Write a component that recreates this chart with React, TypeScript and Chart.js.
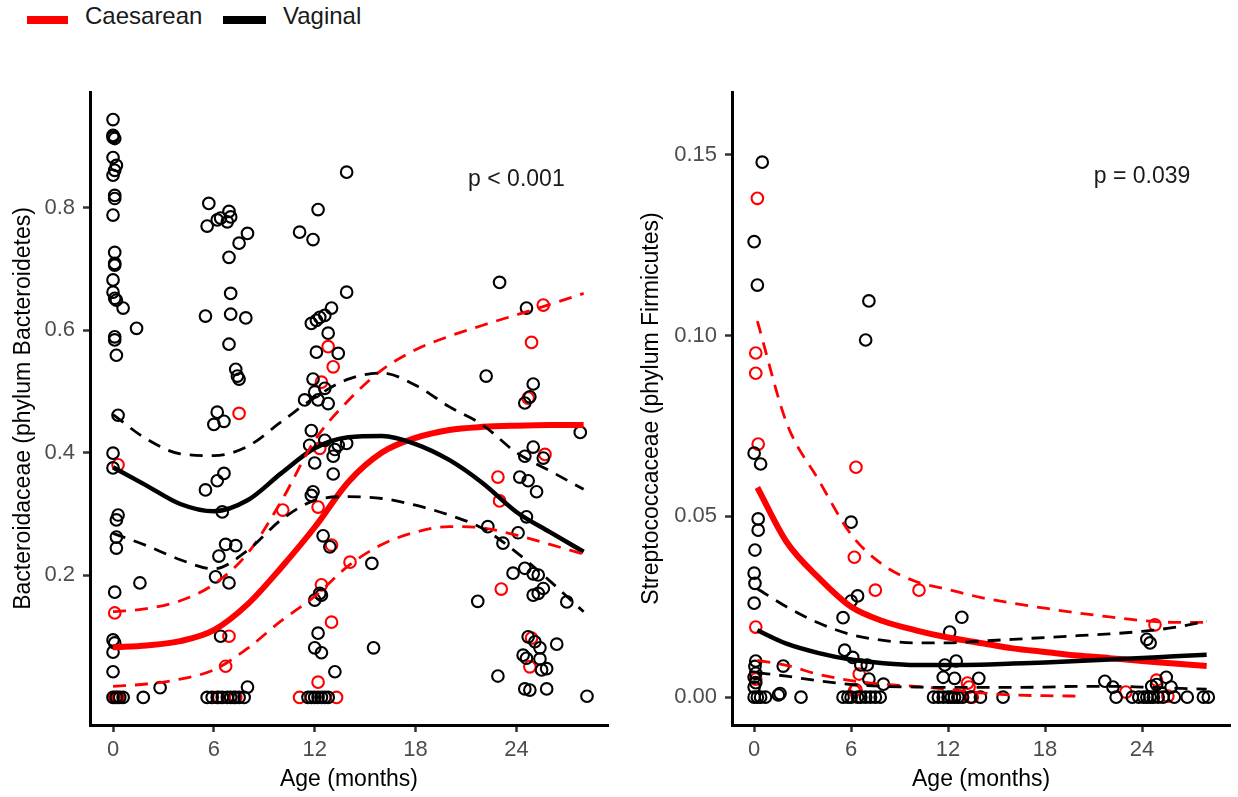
import React, { useEffect, useRef } from "react";
import { Chart, registerables } from "chart.js";

Chart.register(...registerables);

const FONT = '"Liberation Sans", Arial, Helvetica, sans-serif';
const RED = "#FF0000";
const BLACK = "#000000";

// ---------- axis ticks ----------
const AGE_TICKS = [0, 6, 12, 18, 24];
const LEFT_Y_TICKS = [0.2, 0.4, 0.6, 0.8];
const RIGHT_Y_TICKS = [0.0, 0.05, 0.1, 0.15];

// ---------- LEFT panel: Bacteroidaceae ----------
const leftVagAge = [
  0.0, 0.0, 0.1, 0.0, 0.0, 0.2, 0.1, 0.0, 0.1, 0.1, 0.0, 0.1, 0.1, 0.1, 0.0, 0.0, 0.1, 0.2, 0.6, 1.4,
  0.1, 0.1, 0.2, 0.3, 0.0, 0.0, 0.3, 0.2, 0.2, 0.2, 1.6, 0.1, 0.0, 0.1, 0.0, 0.0, 2.8, 1.8, 0.0, 0.2,
  0.4, 0.6,
  5.7, 5.6, 6.2, 6.4, 6.9, 7.0, 6.8, 8.0, 7.5, 6.9, 7.0, 5.5, 7.0, 7.9, 6.9, 7.3, 7.4, 7.5, 6.2, 6.0,
  6.6, 5.5, 6.2, 6.6, 6.5, 6.7, 7.3, 6.3, 6.1, 6.9, 6.4, 8.0, 5.6, 5.9, 6.2, 6.5, 6.8, 7.0, 7.2, 7.5,
  7.8,
  12.2, 11.1, 11.9, 13.9, 13.9, 13.0, 12.6, 12.3, 12.1, 11.8, 12.8, 12.1, 13.4, 11.9, 12.6, 12.0, 11.4,
  12.2, 12.8, 11.8, 11.7, 12.6, 13.2, 13.4, 13.9, 13.1, 12.0, 13.1, 11.9, 11.8, 12.5, 12.9, 15.4, 12.3,
  12.0, 12.4, 12.2, 12.0, 12.4, 15.5, 13.2, 11.6, 11.8, 12.0, 12.2, 12.4, 12.6, 12.8,
  23.0, 24.6, 22.2, 25.0, 24.8, 24.5, 25.0, 24.5, 25.6, 27.8, 24.2, 24.7, 25.2, 24.6, 22.3, 24.1, 23.2,
  23.8, 24.5, 25.0, 25.3, 25.6, 25.0, 25.3, 21.7, 27.0, 24.7, 25.1, 25.4, 26.4, 24.4, 24.6, 25.4, 25.8,
  25.5, 22.9, 24.5, 24.8, 25.8, 28.2,
];
const leftVagValue = [
  0.944, 0.918, 0.913, 0.915, 0.882, 0.869, 0.861, 0.853, 0.82, 0.815, 0.788, 0.727, 0.709, 0.706, 0.682,
  0.662, 0.652, 0.649, 0.636, 0.603, 0.589, 0.584, 0.559, 0.461, 0.399, 0.375, 0.298, 0.29, 0.262, 0.244,
  0.187, 0.172, 0.094, 0.089, 0.074, 0.042, 0.016, 0.0, 0.0, 0.0, 0.0, 0.0,
  0.807, 0.77, 0.78, 0.783, 0.794, 0.785, 0.777, 0.758, 0.742, 0.719, 0.66, 0.623, 0.626, 0.62, 0.577,
  0.536, 0.525, 0.52, 0.466, 0.446, 0.451, 0.339, 0.354, 0.366, 0.303, 0.25, 0.248, 0.231, 0.197, 0.187,
  0.1, 0.017, 0.0, 0.0, 0.0, 0.0, 0.0, 0.0, 0.0, 0.0, 0.0,
  0.797, 0.76, 0.748, 0.858, 0.662, 0.636, 0.624, 0.621, 0.616, 0.611, 0.595, 0.564, 0.562, 0.52, 0.505,
  0.499, 0.486, 0.486, 0.48, 0.436, 0.412, 0.42, 0.405, 0.412, 0.415, 0.394, 0.383, 0.365, 0.336, 0.33,
  0.264, 0.246, 0.219, 0.17, 0.159, 0.167, 0.105, 0.081, 0.073, 0.081, 0.042, 0.0, 0.0, 0.0, 0.0, 0.0,
  0.0, 0.0,
  0.678, 0.636, 0.525, 0.512, 0.491, 0.481, 0.409, 0.394, 0.391, 0.433, 0.36, 0.354, 0.336, 0.295, 0.279,
  0.269, 0.252, 0.203, 0.211, 0.202, 0.2, 0.178, 0.167, 0.17, 0.157, 0.156, 0.099, 0.091, 0.081, 0.087,
  0.069, 0.064, 0.063, 0.047, 0.045, 0.035, 0.014, 0.012, 0.014, 0.002,
];
const leftCesAge = [
  0.3, 0.1, 0.1, 0.3, 7.5, 6.9, 6.7, 6.3, 7.3, 10.1, 12.8, 13.1, 12.4, 12.3, 12.2, 13.0, 14.1, 12.4, 13.0,
  12.2, 11.1, 13.3, 25.6, 24.9, 24.7, 25.7, 22.9, 23.0, 23.1, 24.9, 24.8,
];
const leftCesValue = [
  0.38, 0.138, 0.0, 0.0, 0.464, 0.1, 0.051, 0.0, 0.0, 0.306, 0.573, 0.54, 0.515, 0.407, 0.311, 0.249, 0.221,
  0.184, 0.123, 0.025, 0.0, 0.0, 0.641, 0.58, 0.489, 0.397, 0.36, 0.321, 0.177, 0.097, 0.05,
];

// fitted curves (read at these ages)
const leftFitAge = [0, 2, 4, 6, 8, 10, 12, 14, 16, 18, 20, 22, 24, 26, 28];
const leftVagFit = [0.376, 0.346, 0.316, 0.304, 0.322, 0.366, 0.407, 0.425, 0.427, 0.414, 0.388, 0.35, 0.303, 0.27, 0.238];
const leftVagLower = [0.268, 0.248, 0.225, 0.21, 0.24, 0.29, 0.322, 0.328, 0.325, 0.314, 0.298, 0.276, 0.237, 0.19, 0.14];
const leftVagUpper = [0.462, 0.422, 0.398, 0.395, 0.41, 0.45, 0.49, 0.52, 0.53, 0.51, 0.475, 0.445, 0.4, 0.37, 0.34];
const leftCesFit = [0.082, 0.085, 0.092, 0.11, 0.152, 0.212, 0.278, 0.352, 0.4, 0.424, 0.437, 0.442, 0.444, 0.445, 0.445];
const leftCesLower = [0.018, 0.022, 0.03, 0.045, 0.08, 0.125, 0.165, 0.215, 0.25, 0.27, 0.279, 0.277, 0.265, 0.25, 0.234];
const leftCesUpper = [0.14, 0.145, 0.158, 0.185, 0.235, 0.32, 0.42, 0.485, 0.535, 0.568, 0.59, 0.608, 0.625, 0.642, 0.66];

// ---------- RIGHT panel: Streptococcaceae ----------
const rightVagAge = [
  0.5, 0.0, 0.2, 7.1, 6.9, 0.0, 0.4, 0.25, 0.25, 6.0, 0.05, 0.0, 0.05, 0.0, 6.4, 6.0, 5.5, 5.6, 6.1, 0.1,
  1.8, 6.6, 7.0, 0.05, 0.1, 0.0, 0.1, 0.0, 7.1, 8.0, 1.6, 1.5, 2.9, 0.7, 0.0, 0.2, 0.4, 5.5, 5.8, 6.0,
  6.4, 6.6, 6.9, 7.2, 7.5, 7.8,
  12.85, 12.1, 11.8, 12.5, 11.7, 12.4, 13.9, 11.1, 11.4, 11.7, 12.0, 12.2, 12.4, 12.6, 12.9, 13.4, 14.0,
  15.4,
  24.3, 24.5, 21.7, 22.2, 25.5, 25.8, 24.6, 24.9, 22.4, 23.4, 23.8, 24.1, 24.3, 24.5, 24.7, 25.0, 25.3,
  26.0, 26.8, 27.8, 28.1,
];
const rightVagValue = [
  0.148, 0.126, 0.114, 0.1096, 0.0988, 0.0675, 0.0645, 0.0493, 0.0462, 0.0484, 0.0407, 0.0343, 0.0315,
  0.026, 0.028, 0.0266, 0.022, 0.013, 0.011, 0.01, 0.0086, 0.0089, 0.0089, 0.0085, 0.0066, 0.0055, 0.004,
  0.0028, 0.005, 0.0036, 0.001, 0.0006, 0.0, 0.0, 0.0, 0.0, 0.0, 0.0, 0.0, 0.0, 0.0, 0.0, 0.0, 0.0, 0.0,
  0.0,
  0.0221, 0.018, 0.0089, 0.01, 0.0055, 0.0052, 0.0052, 0.0, 0.0, 0.0, 0.0, 0.0, 0.0, 0.0, 0.0, 0.0, 0.0,
  0.0,
  0.016, 0.015, 0.0044, 0.0028, 0.0055, 0.0028, 0.003, 0.0035, 0.0, 0.0, 0.0, 0.0, 0.0, 0.0, 0.0, 0.0, 0.0,
  0.0, 0.0, 0.0, 0.0,
];
const rightCesAge = [
  0.2, 0.1, 0.1, 0.25, 6.3, 6.2, 7.5, 10.2, 0.1, 6.5, 0.1, 6.2, 6.3, 13.2, 13.3, 12.7, 13.5, 24.8, 23.0,
  24.9, 25.6,
];
const rightCesValue = [
  0.138, 0.0952, 0.0896, 0.07, 0.0636, 0.0387, 0.0296, 0.0296, 0.0194, 0.0064, 0.005, 0.0017, 0.002, 0.0039,
  0.0028, 0.0, 0.0, 0.02, 0.0014, 0.0047, 0.0003,
];

const rightFitAge = [0.2, 2, 4, 6, 8, 10, 12, 14, 16, 18, 20, 22, 24, 26, 28];
const rightVagFit = [0.0185, 0.0148, 0.0122, 0.0104, 0.0094, 0.0089, 0.0089, 0.009, 0.0093, 0.0096, 0.01, 0.0104, 0.0108, 0.0113, 0.0117];
const rightVagLower = [0.0068, 0.0058, 0.0045, 0.0035, 0.003, 0.0028, 0.0027, 0.0027, 0.0027, 0.0028, 0.003, 0.003, 0.0028, 0.0025, 0.0022];
const rightVagUpper = [0.03, 0.025, 0.0205, 0.0173, 0.0157, 0.015, 0.015, 0.0155, 0.016, 0.0165, 0.017, 0.0175, 0.0182, 0.0193, 0.021];
const rightCesFit = [0.058, 0.043, 0.033, 0.025, 0.021, 0.0185, 0.0165, 0.015, 0.0135, 0.0125, 0.0115, 0.0108, 0.01, 0.0093, 0.0086];
const rightCesLower = [0.0102, 0.0088, 0.0063, 0.0046, 0.0036, 0.003, 0.0022, 0.0012, 0.0006, 0.0004, 0.0003, null, null, null, null];
const rightCesUpper = [0.104, 0.076, 0.06, 0.045, 0.0365, 0.032, 0.0298, 0.0276, 0.026, 0.0246, 0.0233, 0.0222, 0.0212, 0.0207, 0.0207];

// ---------- helpers ----------
const pts = (xs: number[], ys: (number | null)[]) =>
  xs.map((x, i) => ({ x, y: ys[i] as number })).filter((p) => p.y !== null && p.y !== undefined);

function lineDs(xs: number[], ys: (number | null)[], color: string, width: number, dashed: boolean) {
  return {
    type: "scatter" as const,
    data: pts(xs, ys),
    showLine: true,
    borderColor: color,
    backgroundColor: color,
    borderWidth: width,
    borderDash: dashed ? [13, 9] : [],
    borderCapStyle: "butt" as const,
    pointRadius: 0,
    cubicInterpolationMode: "monotone" as const,
    fill: false,
    order: 0,
  };
}

function pointDs(xs: number[], ys: number[], color: string) {
  return {
    type: "scatter" as const,
    data: pts(xs, ys),
    showLine: false,
    pointStyle: "circle" as const,
    pointRadius: 5.8,
    pointBorderWidth: 2.1,
    pointBorderColor: color,
    pointBackgroundColor: "rgba(0,0,0,0)",
    borderColor: color,
    backgroundColor: "rgba(0,0,0,0)",
    order: 1,
  };
}

type PanelCfg = {
  vagAge: number[]; vagVal: number[]; cesAge: number[]; cesVal: number[];
  fitAge: number[];
  vagFit: (number | null)[]; vagLo: (number | null)[]; vagHi: (number | null)[];
  cesFit: (number | null)[]; cesLo: (number | null)[]; cesHi: (number | null)[];
  yMin: number; yMax: number; yTicks: number[]; yDigits: number;
  yTitle: string; yTitlePad: number; yWidth: number; padRight: number;
  pText: string; pX: number; pY: number;
};

function buildChart(canvas: HTMLCanvasElement, c: PanelCfg) {
  const pPlugin = {
    id: "pText",
    afterDatasetsDraw(chart: any) {
      const { ctx, scales } = chart;
      ctx.save();
      ctx.font = `23px ${FONT}`;
      ctx.fillStyle = "#1a1a1a";
      ctx.textAlign = "center";
      ctx.textBaseline = "middle";
      ctx.fillText(c.pText, scales.x.getPixelForValue(c.pX), scales.y.getPixelForValue(c.pY));
      ctx.restore();
    },
  };
  return new Chart(canvas, {
    type: "scatter",
    data: {
      datasets: [
        lineDs(c.fitAge, c.vagLo, BLACK, 2.8, true),
        lineDs(c.fitAge, c.vagHi, BLACK, 2.8, true),
        lineDs(c.fitAge, c.cesLo, RED, 2.8, true),
        lineDs(c.fitAge, c.cesHi, RED, 2.8, true),
        lineDs(c.fitAge, c.vagFit, BLACK, 4.5, false),
        lineDs(c.fitAge, c.cesFit, RED, 6, false),
        pointDs(c.vagAge, c.vagVal, BLACK),
        pointDs(c.cesAge, c.cesVal, RED),
      ] as any,
    },
    options: {
      responsive: false,
      animation: false,
      devicePixelRatio: 1,
      events: [],
      layout: { padding: { top: 92, right: c.padRight, bottom: 0, left: 0 } },
      plugins: { legend: { display: false }, tooltip: { enabled: false } },
      scales: {
        x: {
          type: "linear",
          min: -1.37,
          max: 29.45,
          afterBuildTicks: (ax: any) => {
            ax.ticks = AGE_TICKS.map((v) => ({ value: v }));
          },
          afterFit: (ax: any) => {
            ax.height = 72;
          },
          ticks: {
            color: "#4d4d4d",
            font: { family: FONT, size: 22 },
            padding: 5,
            maxRotation: 0,
            autoSkip: false,
            callback: (v: any) => String(v),
          },
          grid: { display: true, drawOnChartArea: false, drawTicks: true, tickLength: 7, tickColor: "#333333", tickWidth: 2.5 },
          border: { display: true, color: BLACK, width: 3 },
          title: {
            display: true,
            text: "Age (months)",
            color: "#000",
            font: { family: FONT, size: 23 },
            padding: { top: 0, bottom: 4 },
          },
        },
        y: {
          type: "linear",
          min: c.yMin,
          max: c.yMax,
          afterBuildTicks: (ax: any) => {
            ax.ticks = c.yTicks.map((v) => ({ value: v }));
          },
          afterFit: (ax: any) => {
            ax.width = c.yWidth;
          },
          ticks: {
            color: "#4d4d4d",
            font: { family: FONT, size: 22 },
            padding: 8,
            autoSkip: false,
            callback: (v: any) => Number(v).toFixed(c.yDigits),
          },
          grid: { display: true, drawOnChartArea: false, drawTicks: true, tickLength: 7, tickColor: "#333333", tickWidth: 2.5 },
          border: { display: true, color: BLACK, width: 3 },
          title: {
            display: true,
            text: c.yTitle,
            color: "#000",
            font: { family: FONT, size: 23 },
            padding: { top: c.yTitlePad, bottom: 0 },
          },
        },
      },
    } as any,
    plugins: [pPlugin],
  });
}

function Panel({ left, width, cfg }: { left: number; width: number; cfg: PanelCfg }) {
  const ref = useRef<HTMLCanvasElement>(null);
  useEffect(() => {
    const chart = buildChart(ref.current as HTMLCanvasElement, cfg);
    return () => chart.destroy();
  }, []);
  return (
    <canvas
      ref={ref}
      width={width}
      height={797}
      style={{ position: "absolute", left, top: 0, width, height: 797 }}
    />
  );
}

const leftCfg: PanelCfg = {
  vagAge: leftVagAge, vagVal: leftVagValue, cesAge: leftCesAge, cesVal: leftCesValue,
  fitAge: leftFitAge,
  vagFit: leftVagFit, vagLo: leftVagLower, vagHi: leftVagUpper,
  cesFit: leftCesFit, cesLo: leftCesLower, cesHi: leftCesUpper,
  yMin: -0.045, yMax: 0.989, yTicks: LEFT_Y_TICKS, yDigits: 1,
  yTitle: "Bacteroidaceae (phylum Bacteroidetes)", yTitlePad: 10, yWidth: 90, padRight: 11,
  pText: "p < 0.001", pX: 24.0, pY: 0.846,
};

const rightCfg: PanelCfg = {
  vagAge: rightVagAge, vagVal: rightVagValue, cesAge: rightCesAge, cesVal: rightCesValue,
  fitAge: rightFitAge,
  vagFit: rightVagFit, vagLo: rightVagLower, vagHi: rightVagUpper,
  cesFit: rightCesFit, cesLo: rightCesLower, cesHi: rightCesUpper,
  yMin: -0.0077, yMax: 0.1674, yTicks: RIGHT_Y_TICKS, yDigits: 2,
  yTitle: "Streptococcaceae (phylum Firmicutes)", yTitlePad: 19, yWidth: 113, padRight: 0,
  pText: "p = 0.039", pX: 24.0, pY: 0.1439,
};

export default function App() {
  const legendText: React.CSSProperties = {
    position: "absolute",
    top: 16,
    transform: "translateY(-50%)",
    fontFamily: FONT,
    fontSize: 24,
    lineHeight: "28px",
    color: "#1a1a1a",
    whiteSpace: "nowrap",
  };
  return (
    <div style={{ position: "absolute", left: 0, top: 0, width: 1238, height: 797, background: "#fff", overflow: "hidden" }}>
      <div style={{ position: "absolute", left: 27, top: 16, width: 41, height: 8, background: RED }} />
      <div style={{ ...legendText, left: 85 }}>Caesarean</div>
      <div style={{ position: "absolute", left: 223, top: 16, width: 43, height: 8, background: BLACK }} />
      <div style={{ ...legendText, left: 283 }}>Vaginal</div>
      <Panel left={0} width={619} cfg={leftCfg} />
      <Panel left={619} width={619} cfg={rightCfg} />
    </div>
  );
}
